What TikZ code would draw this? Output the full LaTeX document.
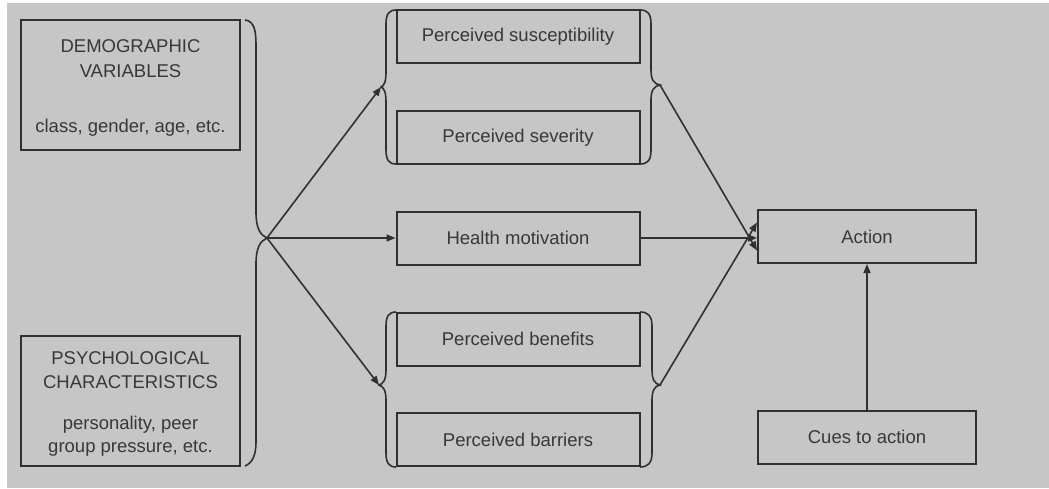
\documentclass[tikz,border=0pt]{standalone}
\usepackage{fontspec}
\setmainfont{Liberation Sans}
\usetikzlibrary{arrows.meta}
\definecolor{bggray}{HTML}{C6C6C6}
\definecolor{ink}{HTML}{303030}
\definecolor{txt}{HTML}{383838}
\begin{document}
\begin{tikzpicture}[x=1pt,y=-1pt,
  box/.style={draw=ink,line width=2pt,inner sep=0pt,minimum width=243pt,minimum height=53pt,
    text=txt,font=\fontsize{18.5}{22}\selectfont},
  bigbox/.style={draw=ink,line width=2pt,inner sep=0pt,minimum width=219pt,minimum height=130pt},
  lbl/.style={text=txt,font=\fontsize{18.5}{22}\selectfont,inner sep=0pt},
  brace/.style={draw=ink,line width=1.6pt},
  arr/.style={draw=ink,line width=1.6pt,-{Triangle[length=9pt,width=7pt]}},
  ]
\useasboundingbox (0,0) rectangle (1049,488);
\fill[white] (0,0) rectangle (1049,488);
\fill[bggray] (7,3) rectangle (1049,488);

% left boxes
\node[bigbox] (demo) at (130.5,85) {};
\node[lbl] (demo1) at (130.5,46) {DEMOGRAPHIC};
\node[lbl] (demo2) at (130.5,71) {VARIABLES};
\node[lbl] (demo3) at (130.5,128) {class, gender, age, etc.};

\node[bigbox] (psy) at (130.5,401) {};
\node[lbl] (psy1) at (130.5,358) {PSYCHOLOGICAL};
\node[lbl] (psy2) at (130.5,382) {CHARACTERISTICS};
\node[lbl] (psy3) at (130.5,425) {personality, peer};
\node[lbl] (psy4) at (130.5,448) {group pressure, etc.};

% middle boxes
\node[box] (susc) at (518,36.5) {Perceived susceptibility};
\node[box] (sev)  at (518,137.5) {Perceived severity};
\node[box] (hm)   at (518,238) {Health motivation};
\node[box] (ben)  at (518,339) {Perceived benefits};
\node[box] (bar)  at (518,439.5) {Perceived barriers};

% right boxes
\node[box,minimum width=218pt] (act) at (867,236.5) {Action};
\node[box,minimum width=218pt] (cue) at (867,437) {Cues to action};

% brace tips
\coordinate (bigtip) at (267,238);
\coordinate (ultip) at (381,87);
\coordinate (urtip) at (660,85);
\coordinate (lltip) at (379,385);
\coordinate (lrtip) at (660,385);

% big left brace
\draw[brace] (245,20) .. controls (254,21) and (256,30) .. (256,45) -- (256,212)
  .. controls (256,228) and (260,235) .. (bigtip)
  .. controls (260,241) and (256,248) .. (256,264) -- (256,442)
  .. controls (256,456) and (252,463) .. (245,466);

% upper group braces
\draw[brace] (396,10) .. controls (389,10) and (386,14) .. (386,24) -- (386,72)
  .. controls (386,82) and (384,86) .. (ultip)
  .. controls (384,88) and (386,92) .. (386,102) -- (386,150)
  .. controls (386,160) and (389,164) .. (396,164);
\draw[brace] (640,10) .. controls (648,10) and (651,14) .. (651,24) -- (651,70)
  .. controls (651,80) and (654,84) .. (urtip)
  .. controls (654,86) and (651,90) .. (651,100) -- (651,150)
  .. controls (651,160) and (648,164) .. (640,164);

% lower group braces
\draw[brace] (396,312) .. controls (389,312) and (386,316) .. (386,326) -- (386,370)
  .. controls (386,380) and (383,384) .. (lltip)
  .. controls (383,386) and (386,390) .. (386,400) -- (386,453)
  .. controls (386,463) and (389,467) .. (396,467);
\draw[brace] (640,312) .. controls (648,312) and (652,316) .. (652,326) -- (652,370)
  .. controls (652,380) and (655,384) .. (lrtip)
  .. controls (655,386) and (652,390) .. (652,400) -- (652,453)
  .. controls (652,463) and (648,467) .. (640,467);

% arrows
\draw[arr] (bigtip) -- (hm.west |- bigtip);
\draw[arr] (bigtip) -- (ultip);
\draw[arr] (bigtip) -- (lltip);
\draw[arr] (urtip) -- ([yshift=-14pt]act.west);
\draw[arr] (hm.east) -- (hm.east -| act.west);
\draw[arr] (lrtip) -- ([yshift=14pt]act.west);
\draw[arr] (cue.north) -- (act.south);
\end{tikzpicture}
\end{document}
